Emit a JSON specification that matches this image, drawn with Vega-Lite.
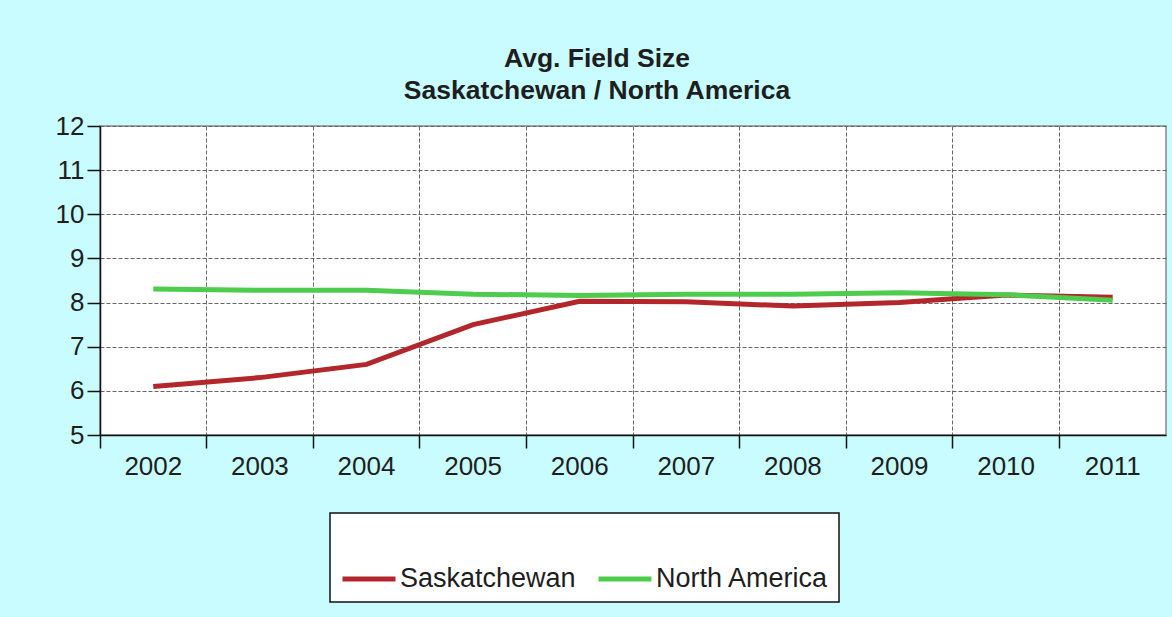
{
  "$schema": "https://vega.github.io/schema/vega-lite/v6.json",
  "width": 1066,
  "height": 309,
  "autosize": {"type": "none"},
  "padding": {"left": 100, "top": 126, "right": 6, "bottom": 182},
  "background": "#c8fcff",
  "title": {
    "text": ["Avg. Field Size", "Saskatchewan / North America"],
    "font": "Liberation Sans",
    "fontSize": 26.5,
    "fontWeight": "bold",
    "color": "#1e1e1e",
    "lineHeight": 32,
    "anchor": "middle",
    "dx": -36,
    "offset": 9
  },
  "data": {
    "values": [
      {"year": "2002", "series": "Saskatchewan", "value": 6.1},
      {"year": "2003", "series": "Saskatchewan", "value": 6.3},
      {"year": "2004", "series": "Saskatchewan", "value": 6.6},
      {"year": "2005", "series": "Saskatchewan", "value": 7.5},
      {"year": "2006", "series": "Saskatchewan", "value": 8.03},
      {"year": "2007", "series": "Saskatchewan", "value": 8.02},
      {"year": "2008", "series": "Saskatchewan", "value": 7.92},
      {"year": "2009", "series": "Saskatchewan", "value": 8.0},
      {"year": "2010", "series": "Saskatchewan", "value": 8.17},
      {"year": "2011", "series": "Saskatchewan", "value": 8.12},
      {"year": "2002", "series": "North America", "value": 8.31},
      {"year": "2003", "series": "North America", "value": 8.28},
      {"year": "2004", "series": "North America", "value": 8.28},
      {"year": "2005", "series": "North America", "value": 8.19},
      {"year": "2006", "series": "North America", "value": 8.16},
      {"year": "2007", "series": "North America", "value": 8.19},
      {"year": "2008", "series": "North America", "value": 8.19},
      {"year": "2009", "series": "North America", "value": 8.22},
      {"year": "2010", "series": "North America", "value": 8.18},
      {"year": "2011", "series": "North America", "value": 8.05}
    ]
  },
  "mark": {"type": "line", "strokeWidth": 5, "strokeCap": "butt"},
  "encoding": {
    "x": {
      "field": "year",
      "type": "ordinal",
      "bandPosition": 0.5,
      "scale": {"type": "band", "paddingInner": 0, "paddingOuter": 0},
      "axis": {
        "title": null,
        "bandPosition": 0,
        "labelAngle": 0,
        "labelFont": "Liberation Sans",
        "labelFontSize": 26,
        "labelColor": "#1e1e1e",
        "labelPadding": 5,
        "tickSize": 13,
        "tickColor": "#111",
        "tickWidth": 1.5,
        "domainColor": "#111",
        "domainWidth": 1.5,
        "grid": true,
        "gridColor": "#666",
        "gridDash": [4, 2],
        "gridWidth": 1
      }
    },
    "y": {
      "field": "value",
      "type": "quantitative",
      "scale": {"domain": [5, 12], "nice": false, "zero": false},
      "axis": {
        "title": null,
        "values": [5, 6, 7, 8, 9, 10, 11, 12],
        "labelFont": "Liberation Sans",
        "labelFontSize": 26,
        "labelColor": "#1e1e1e",
        "labelPadding": 3,
        "tickSize": 13,
        "tickColor": "#111",
        "tickWidth": 1.5,
        "domainColor": "#111",
        "domainWidth": 1.5,
        "grid": true,
        "gridColor": "#666",
        "gridDash": [4, 2],
        "gridWidth": 1
      }
    },
    "color": {
      "field": "series",
      "type": "nominal",
      "scale": {"domain": ["Saskatchewan", "North America"], "range": ["#b3272c", "#4dcc4d"]},
      "legend": {
        "title": " ",
        "titleFontSize": 20,
        "titlePadding": 7,
        "orient": "none",
        "direction": "horizontal",
        "legendX": 230,
        "legendY": 387,
        "fillColor": "white",
        "strokeColor": "#111",
        "padding": 10,
        "symbolType": "stroke",
        "symbolStrokeWidth": 5,
        "symbolSize": 2809,
        "labelFont": "Liberation Sans",
        "labelFontSize": 27,
        "labelColor": "#1e1e1e",
        "labelOffset": 2,
        "columnPadding": 12,
        "labelLimit": 400,
        "encode": {"legend": {"update": {"strokeWidth": {"value": 1.5}}}}
      }
    }
  },
  "config": {
    "view": {"stroke": "#888", "fill": "white", "strokeWidth": 1.5}
  }
}
